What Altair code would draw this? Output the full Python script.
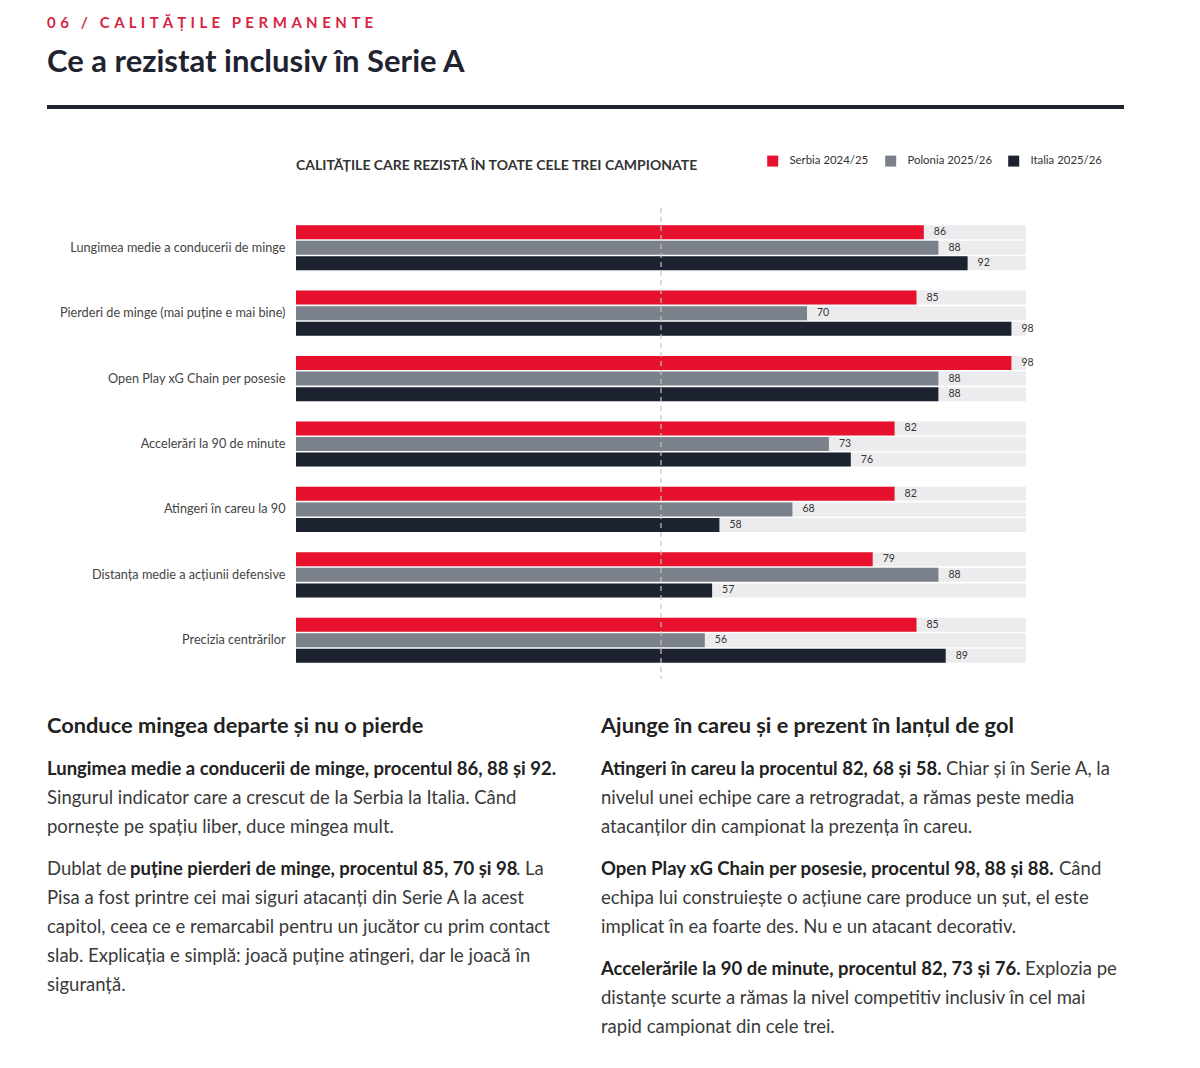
import altair as alt
import pandas as pd

# ---------------- data ----------------
categories = [
    "Lungimea medie a conducerii de minge",
    "Pierderi de minge (mai puține e mai bine)",
    "Open Play xG Chain per posesie",
    "Accelerări la 90 de minute",
    "Atingeri în careu la 90",
    "Distanța medie a acțiunii defensive",
    "Precizia centrărilor",
]
series = ["Serbia 2024/25", "Polonia 2025/26", "Italia 2025/26"]
serbia = [86, 85, 98, 82, 82, 79, 85]
polonia = [88, 70, 88, 73, 68, 88, 56]
italia = [92, 98, 88, 76, 58, 57, 89]
colors = ["#E8112D", "#7B818B", "#1D2230"]

kicker = "06 / CALITĂȚILE PERMANENTE"
headline = "Ce a rezistat inclusiv în Serie A"
chart_title = "CALITĂȚILE CARE REZISTĂ ÎN TOATE CELE TREI CAMPIONATE"

left_heading = "Conduce mingea departe și nu o pierde"
right_heading = "Ajunge în careu și e prezent în lanțul de gol"

# paragraphs: list of lines, each line a list of (text, bold) segments
left_paras = [
    [
        [("Lungimea medie a conducerii de minge, procentul 86, 88 și 92.", True)],
        [("Singurul indicator care a crescut de la Serbia la Italia. Când", False)],
        [("pornește pe spațiu liber, duce mingea mult.", False)],
    ],
    [
        [("Dublat de", False), ("puține pierderi de minge, procentul 85, 70 și 98", True), (". La", False)],
        [("Pisa a fost printre cei mai siguri atacanți din Serie A la acest", False)],
        [("capitol, ceea ce e remarcabil pentru un jucător cu prim contact", False)],
        [("slab. Explicația e simplă: joacă puține atingeri, dar le joacă în", False)],
        [("siguranță.", False)],
    ],
]
right_paras = [
    [
        [("Atingeri în careu la procentul 82, 68 și 58.", True), ("Chiar și în Serie A, la", False)],
        [("nivelul unei echipe care a retrogradat, a rămas peste media", False)],
        [("atacanților din campionat la prezența în careu.", False)],
    ],
    [
        [("Open Play xG Chain per posesie, procentul 98, 88 și 88.", True), ("Când", False)],
        [("echipa lui construiește o acțiune care produce un șut, el este", False)],
        [("implicat în ea foarte des. Nu e un atacant decorativ.", False)],
    ],
    [
        [("Accelerările la 90 de minute, procentul 82, 73 și 76.", True), ("Explozia pe", False)],
        [("distanțe scurte a rămas la nivel competitiv inclusiv în cel mai", False)],
        [("rapid campionat din cele trei.", False)],
    ],
]
# page x where each segment of a mixed-weight line starts
left_seg_x = {(1, 0): [47, 130, 516]}
right_seg_x = {(0, 0): [601, 946], (1, 0): [601, 1059], (2, 0): [601, 1025]}

rows = []
for c, a, b, d in zip(categories, serbia, polonia, italia):
    for s, v in zip(series, [a, b, d]):
        rows.append({"cat": c, "series": s, "value": v, "full": 100})
df = pd.DataFrame(rows)

# ---------------- layout ----------------
FONT = "Lato"
W, H = 730, 458
OX, OY = 296, 215  # page position of plot origin
PAD = {"left": OX - 8, "top": OY - 8, "right": 160, "bottom": 1045 - OY - H}

ycat = alt.Y("cat:N", sort=categories,
             scale=alt.Scale(paddingInner=0.31, paddingOuter=0.155),
             axis=alt.Axis(title=None, ticks=False, domain=False, labelPadding=11,
                           labelFontSize=12.7, labelColor="#444", labelFont=FONT,
                           labelLimit=400))
yoff = alt.YOffset("series:N", sort=series,
                   scale=alt.Scale(paddingInner=0.1, paddingOuter=0))
xs = alt.Scale(domain=[0, 100])

base = alt.Chart(df)
bg = base.mark_bar(color="#ECECEF").encode(
    y=ycat, yOffset=yoff, x=alt.X("full:Q", scale=xs, axis=None))
bars = base.mark_bar().encode(
    y=ycat, yOffset=yoff,
    x=alt.X("value:Q", scale=xs, axis=None),
    color=alt.Color("series:N", sort=series,
                    scale=alt.Scale(domain=series, range=colors),
                    legend=alt.Legend(title=None, orient="none", direction="horizontal",
                                      legendX=768 - OX - 1, legendY=155 - OY,
                                      symbolType="square", symbolSize=121,
                                      symbolStrokeWidth=0, labelFontSize=11.4,
                                      labelFont=FONT, labelColor="#333",
                                      labelOffset=11, columnPadding=16, padding=0)))
labels = base.mark_text(align="left", baseline="middle", dx=10, fontSize=10.5,
                        font=FONT, color="#333").encode(
    y=ycat, yOffset=yoff, x=alt.X("value:Q", scale=xs, axis=None),
    text=alt.Text("value:Q"))
rule = alt.Chart(pd.DataFrame({"v": [50]})).mark_rule(
    color="#C4C4C4", strokeDash=[5, 4], strokeWidth=1.2).encode(
    x=alt.X("v:Q", scale=xs, axis=None), y=alt.value(-7), y2=alt.value(H + 6))

dummy = pd.DataFrame({"d": [0]})


def txt(text, x, y, size, bold=False, color="#333", align="left"):
    return alt.Chart(dummy).mark_text(
        text=text, font=FONT, fontSize=size, fontWeight="bold" if bold else "normal",
        color=color, align=align, baseline="alphabetic").encode(
        x=alt.value(x - OX), y=alt.value(y - OY))


NB = "\u00a0"
HS = "\u200a"
layers = [bg, bars, labels, rule]
spaced = (NB * 3 + HS).join((NB + HS).join(w) for w in kicker.split(" "))
layers.append(txt(spaced, 47, 28, 15, True, "#D7263F"))
layers.append(txt(headline, 47, 72, 31, True, "#1F2330"))
layers.append(alt.Chart(dummy).mark_rule(color="#1F2330", strokeWidth=4).encode(
    x=alt.value(47 - OX), x2=alt.value(1124 - OX), y=alt.value(107 - OY)))
layers.append(txt(chart_title, 296, 170, 14, True, "#333"))
layers.append(txt(left_heading, 47, 733, 21.8, True, "#222"))
layers.append(txt(right_heading, 601, 733, 21.8, True, "#222"))

LH = 29
PGAP = 42
BODY = 18.5


def para_layers(paras, x0, seg_x):
    out = []
    y = 775
    for pi, para in enumerate(paras):
        for li, line in enumerate(para):
            xs_ = seg_x.get((pi, li), [x0])
            for (t, b), sx in zip(line, xs_):
                out.append(txt(t, sx, y, BODY, b, "#222" if b else "#3a3a3a"))
            y += LH
        y += PGAP - LH
    return out


layers += para_layers(left_paras, 47, left_seg_x)
layers += para_layers(right_paras, 601, right_seg_x)

chart = alt.layer(*layers).properties(
    width=W, height=H,
    autosize=alt.AutoSizeParams(type="none"),
    padding=PAD,
).configure_view(stroke=None)

chart.save("out.html", embed_options={"renderer": "svg", "actions": False})
